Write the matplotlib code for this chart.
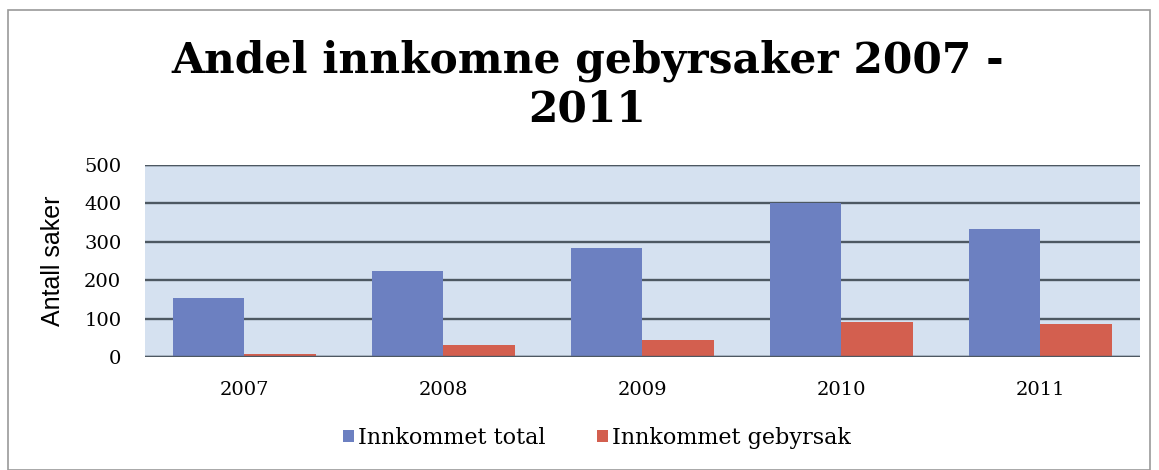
import numpy as np
import matplotlib.pyplot as plt
from matplotlib.patches import Rectangle

years = ["2007", "2008", "2009", "2010", "2011"]
innkommet_total = [154, 223, 285, 400, 333]
innkommet_gebyrsak = [8, 32, 43, 91, 86]
yticks = [0, 100, 200, 300, 400, 500]

SERIF = ["DejaVu Serif"]
BLUE = "#6c80c1"
RED = "#d35f4f"

fig = plt.figure(figsize=(11.59, 4.70), dpi=100)
fig.patch.set_facecolor("white")

# ramme rundt diagrammet
fig.add_artist(Rectangle((8 / 1159, 0), 1142 / 1159, 460 / 470,
                         transform=fig.transFigure, fill=False,
                         edgecolor="#9a9a9a", linewidth=1.2))

ax = fig.add_axes([0.125, 0.2404, 0.8586, 0.4086])
ax.set_facecolor("#d5e1f0")

x = np.arange(len(years))
w = 0.36
ax.bar(x - w / 2, innkommet_total, w, color=BLUE, label="Innkommet total", zorder=3)
ax.bar(x + w / 2, innkommet_gebyrsak, w, color=RED, label="Innkommet gebyrsak", zorder=3)

ax.set_xlim(-0.5, len(years) - 0.5)
ax.set_ylim(0, 500)
ax.set_yticks(yticks)
ax.set_yticklabels([str(t) for t in yticks], family=SERIF, fontsize=14)
ax.set_xticks(x)
ax.set_xticklabels(years, family=SERIF, fontsize=14)
ax.tick_params(axis="y", length=0, pad=17)
ax.tick_params(axis="x", length=0, pad=17)
ax.grid(axis="y", color="#4d5862", linewidth=1.7, zorder=1)
for s in ax.spines.values():
    s.set_visible(False)
ax.axhline(0, color="#4d5862", linewidth=1.7, zorder=4)
ax.axhline(500, color="#4d5862", linewidth=1.7, zorder=4)

ax.set_ylabel("Antall saker", family=["Liberation Sans", "DejaVu Sans"], fontsize=18)
ax.yaxis.set_label_coords(-0.08, 0.5)

fig.text(0.507, 1 - 72 / 470, "Andel innkomne gebyrsaker 2007 -", ha="center",
         va="baseline", family=SERIF, fontsize=30.5, fontweight="bold")
fig.text(0.507, 1 - 122 / 470, "2011", ha="center", va="baseline",
         family=SERIF, fontsize=30.5, fontweight="bold")

fig.legend(loc="center", bbox_to_anchor=(0.515, 0.068), ncol=2, frameon=False,
           prop={"family": SERIF, "size": 16}, handlelength=0.5, handleheight=0.5,
           handletextpad=0.2, columnspacing=2.3)

fig.savefig("out.png", dpi=100)
